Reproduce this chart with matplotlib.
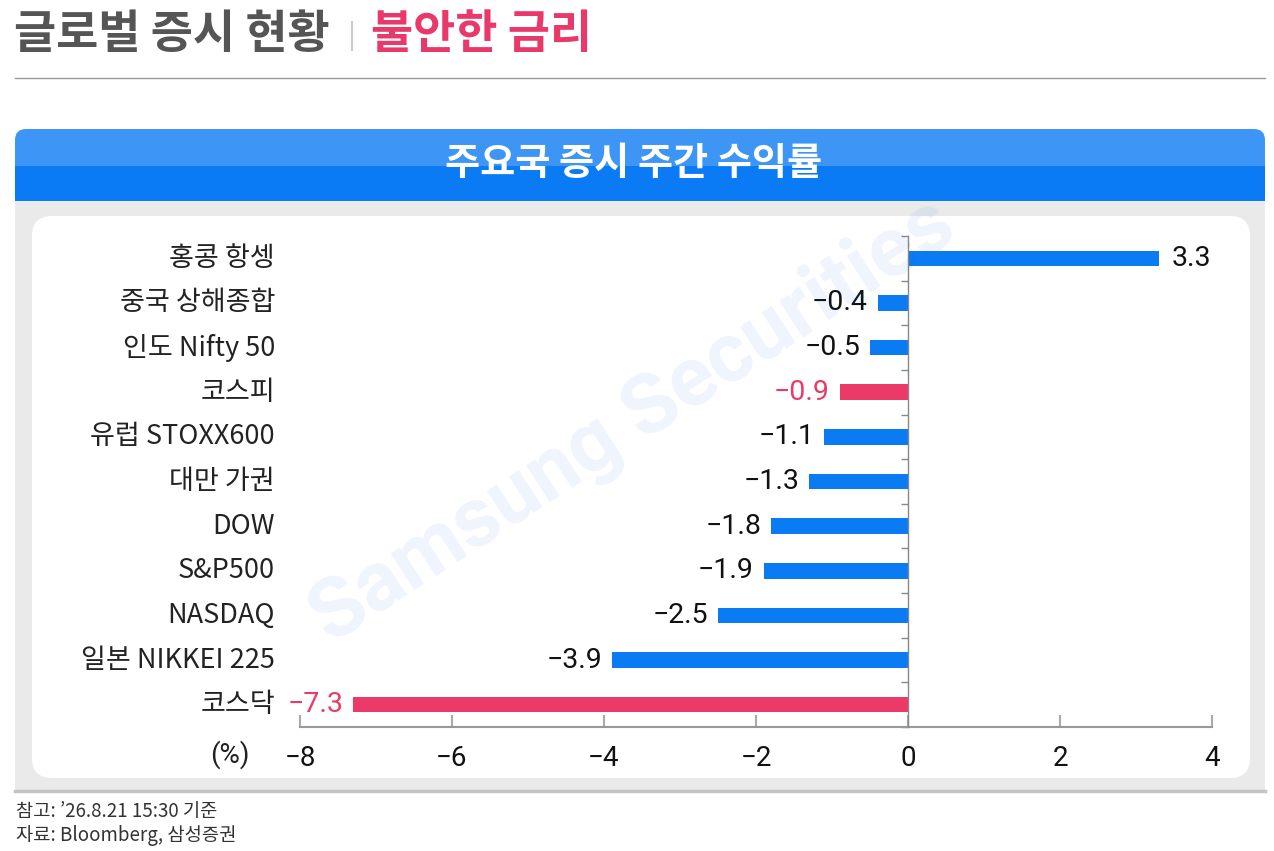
import matplotlib
matplotlib.use("Agg")
import matplotlib.pyplot as plt
import numpy as np
from matplotlib.patches import FancyBboxPatch, Rectangle
from matplotlib.transforms import blended_transform_factory

plt.rcParams["font.family"] = ["Noto Sans CJK KR", "DejaVu Sans"]

# 데이터
categories = ["홍콩 항셍", "중국 상해종합", "인도 Nifty 50", "코스피", "유럽 STOXX600",
              "대만 가권", "DOW", "S&P500", "NASDAQ", "일본 NIKKEI 225", "코스닥"]
returns = [3.3, -0.4, -0.5, -0.9, -1.1, -1.3, -1.8, -1.9, -2.5, -3.9, -7.3]
highlight = ["코스피", "코스닥"]
x_ticks = [-8, -6, -4, -2, 0, 2, 4]

title_left = "글로벌 증시 현황"
title_right = "불안한 금리"
header = "주요국 증시 주간 수익률"
notes = ["참고: ’26.8.21 15:30 기준", "자료: Bloomberg, 삼성증권"]

BLUE = "#0B7BF4"
RED = "#EC3A68"
NUM_FONT = ["Roboto", "DejaVu Sans"]
W, H = 1274, 851

fig = plt.figure(figsize=(W / 100, H / 100), dpi=100)
fig.patch.set_facecolor("white")

# 배경 (픽셀 좌표)
bg = fig.add_axes([0, 0, 1, 1])
bg.set_xlim(0, W)
bg.set_ylim(H, 0)
bg.axis("off")

bg.text(14, 35, title_left, fontsize=33, fontweight="bold", color="#555555", va="center", ha="left")
bg.plot([352, 352], [22, 50], color="#CCCCCC", lw=1.5)
bg.text(371, 35, title_right, fontsize=33, fontweight="bold", color="#E8396A", va="center", ha="left")
bg.plot([15, 1265], [78, 78], color="#999999", lw=1)

# 헤더 박스
bg.add_patch(FancyBboxPatch((15, 129), 1250, 50, boxstyle="round,pad=0,rounding_size=11",
                            fc="#3D95F6", ec="none"))
bg.add_patch(Rectangle((15, 166), 1250, 35, fc="#0A7AF5", ec="none"))
bg.text(634, 164, header, fontsize=27.5, fontweight="bold", color="white", ha="center", va="center")

# 회색 패널 + 흰색 패널
bg.add_patch(Rectangle((15, 201), 1250, 590, fc="#EAEAEA", ec="none"))
bg.plot([15, 1265], [791, 791], color="#C4C4C4", lw=2.5)
bg.add_patch(FancyBboxPatch((32, 216), 1218, 562, boxstyle="round,pad=0,rounding_size=20",
                            fc="white", ec="none"))

for i, t in enumerate(notes):
    bg.text(16, 812 + i * 24, t, fontsize=13.5, color="#333333", ha="left", va="center")

# 차트
left, right, top, bottom = 300, 1212, 236, 727
ax = fig.add_axes([left / W, 1 - bottom / H, (right - left) / W, (bottom - top) / H])
ax.patch.set_visible(False)

y = np.arange(len(categories))
colors = [RED if c in highlight else BLUE for c in categories]
ax.barh(y, returns, height=0.35, color=colors, zorder=2)

ax.set_xlim(x_ticks[0], x_ticks[-1])
ax.set_ylim(len(categories) - 0.5, -0.5)

for s in ["top", "right"]:
    ax.spines[s].set_visible(False)
ax.spines["left"].set_position(("data", 0))
ax.spines["left"].set_color("#888888")
ax.spines["left"].set_linewidth(1)
ax.spines["left"].set_zorder(3)
ax.spines["bottom"].set_color("#999999")
ax.spines["bottom"].set_linewidth(1.5)

ax.set_yticks([])
ax.set_yticks(np.arange(-0.5, len(categories)), minor=True)
ax.tick_params(axis="y", which="minor", direction="out", length=5, width=1, color="#888888",
               labelleft=False)

ax.set_xticks(x_ticks)
ax.set_xticklabels([str(v).replace("-", "\u2212") for v in x_ticks],
                   fontsize=20, color="#111111", family=NUM_FONT)
ax.tick_params(axis="x", direction="in", length=9, width=1.5, color="#AAAAAA", pad=13)

trans = blended_transform_factory(ax.transAxes, ax.transData)
for i, (c, v) in enumerate(zip(categories, returns)):
    ax.text(-25 / (right - left), i, c, transform=trans, ha="right", va="center",
            fontsize=19.5, color="#222222")
    col = RED if c in highlight else "#111111"
    label = f"{v:.1f}".replace("-", "\u2212")
    off = 9 if v > 0 else -7
    ax.annotate(label, (v, i), xytext=(off, 0), textcoords="offset points",
                ha="left" if v > 0 else "right", va="center", fontsize=20.5, color=col,
                family=NUM_FONT)

ax.text(-50 / (right - left), -28 / (bottom - top), "(%)", transform=ax.transAxes,
        ha="right", va="center", fontsize=20, color="#222222", family=NUM_FONT)

# 워터마크
fig.text(0.497, 0.505, "Samsung Securities", fontsize=60, fontweight="bold", color="#1F5FE0",
         alpha=0.07, rotation=33, ha="center", va="center", family=["Roboto", "DejaVu Sans"],
         zorder=10)

fig.savefig("out.png", dpi=100)
